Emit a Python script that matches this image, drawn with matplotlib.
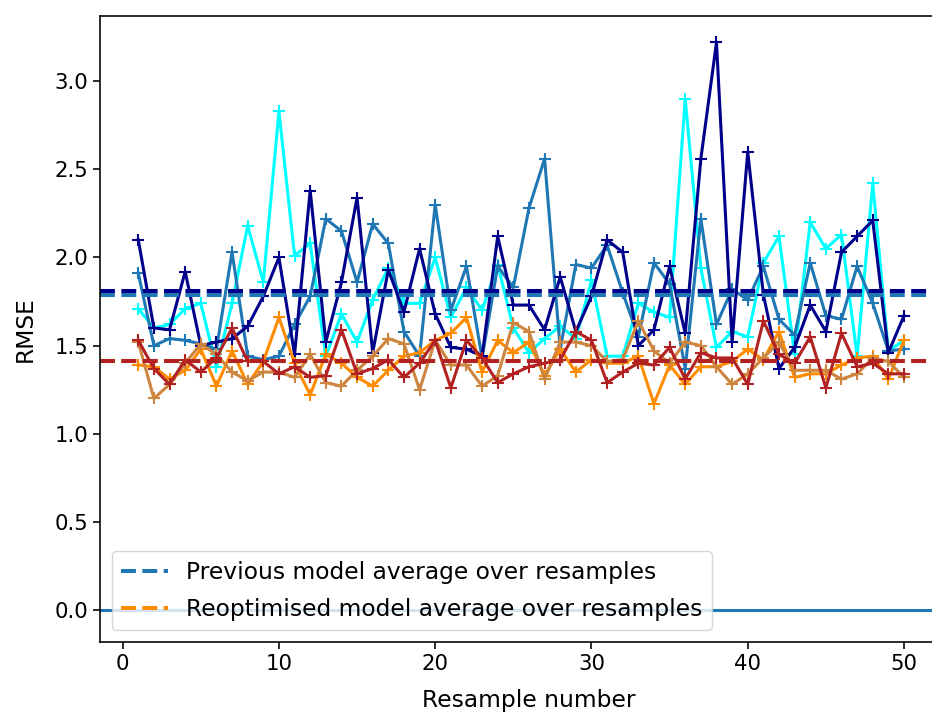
import numpy as np
import matplotlib
matplotlib.use("Agg")
import matplotlib.pyplot as plt

## resample index
resample = np.arange(1, 51)

## previous model RMSE per resample
prev_cyan = [1.71, 1.60, 1.62, 1.71, 1.74, 1.38, 1.74, 2.18, 1.86, 2.83,
             2.01, 2.08, 1.44, 1.68, 1.52, 1.76, 1.94, 1.74, 1.74, 2.00,
             1.66, 1.83, 1.70, 1.96, 1.60, 1.46, 1.54, 1.61, 1.54, 1.87,
             1.44, 1.44, 1.74, 1.69, 1.66, 2.90, 1.94, 1.49, 1.58, 1.55,
             1.97, 2.12, 1.45, 2.20, 2.05, 2.13, 1.44, 2.42, 1.47, 1.53]
prev_blue = [1.91, 1.50, 1.54, 1.53, 1.51, 1.48, 2.03, 1.44, 1.42, 1.44,
             1.62, 1.78, 2.22, 2.15, 1.86, 2.19, 2.08, 1.58, 1.44, 2.30,
             1.70, 1.95, 1.43, 1.95, 1.83, 2.28, 2.56, 1.48, 1.96, 1.94,
             2.07, 1.80, 1.55, 1.97, 1.85, 1.37, 2.22, 1.62, 1.82, 1.76,
             1.95, 1.65, 1.56, 1.97, 1.67, 1.65, 1.95, 1.74, 1.47, 1.48]
prev_navy = [2.10, 1.60, 1.59, 1.92, 1.50, 1.52, 1.54, 1.61, 1.78, 2.00,
             1.45, 2.38, 1.52, 1.86, 2.34, 1.46, 1.93, 1.69, 2.05, 1.68,
             1.49, 1.48, 1.44, 2.12, 1.73, 1.73, 1.59, 1.89, 1.58, 1.78,
             2.10, 2.03, 1.50, 1.59, 1.95, 1.57, 2.56, 3.22, 1.52, 2.60,
             1.79, 1.37, 1.49, 1.73, 1.58, 2.03, 2.12, 2.21, 1.46, 1.67]

## reoptimised model RMSE per resample
reopt_orange = [1.39, 1.38, 1.31, 1.36, 1.48, 1.27, 1.47, 1.28, 1.41, 1.66,
                1.40, 1.22, 1.45, 1.40, 1.32, 1.27, 1.36, 1.44, 1.46, 1.53,
                1.57, 1.66, 1.35, 1.53, 1.46, 1.52, 1.33, 1.48, 1.35, 1.42,
                1.40, 1.40, 1.44, 1.17, 1.39, 1.28, 1.38, 1.38, 1.41, 1.48,
                1.42, 1.58, 1.32, 1.34, 1.34, 1.39, 1.43, 1.44, 1.31, 1.53]
reopt_peru = [1.52, 1.20, 1.28, 1.40, 1.51, 1.45, 1.35, 1.30, 1.35, 1.35,
              1.32, 1.45, 1.29, 1.27, 1.36, 1.44, 1.54, 1.51, 1.25, 1.53,
              1.39, 1.39, 1.27, 1.33, 1.63, 1.58, 1.31, 1.52, 1.52, 1.50,
              1.41, 1.42, 1.64, 1.47, 1.40, 1.52, 1.50, 1.38, 1.28, 1.34,
              1.43, 1.52, 1.36, 1.36, 1.36, 1.31, 1.34, 1.43, 1.41, 1.32]
reopt_red = [1.53, 1.37, 1.28, 1.42, 1.35, 1.43, 1.60, 1.41, 1.41, 1.34,
             1.38, 1.32, 1.33, 1.59, 1.34, 1.37, 1.42, 1.32, 1.40, 1.53,
             1.26, 1.53, 1.43, 1.29, 1.34, 1.38, 1.40, 1.42, 1.58, 1.53,
             1.29, 1.35, 1.40, 1.39, 1.49, 1.31, 1.46, 1.43, 1.43, 1.28,
             1.64, 1.45, 1.40, 1.55, 1.26, 1.57, 1.38, 1.40, 1.34, 1.34]

## averages over resamples (dashed lines)
avg_prev_blue = 1.79
avg_prev_navy = 1.81
avg_reopt_orange = 1.41
avg_reopt_red = 1.415

## style
plt.rcParams["font.size"] = 15.3
plt.rcParams["lines.linewidth"] = 2.2
plt.rcParams["lines.markersize"] = 8.7
plt.rcParams["lines.markeredgewidth"] = 1.5
plt.rcParams["axes.linewidth"] = 1.16
plt.rcParams["xtick.major.width"] = 1.16
plt.rcParams["ytick.major.width"] = 1.16
plt.rcParams["xtick.major.size"] = 5
plt.rcParams["ytick.major.size"] = 5

fig = plt.figure(figsize=(9.32, 7.13), dpi=100)
ax = fig.add_axes([0.1073, 0.1, 0.9205, 0.8775])

ax.axhline(0, color="#1f77b4", lw=2.2)

ax.plot(resample, prev_cyan, marker="+", color="cyan")
ax.plot(resample, prev_blue, marker="+", color="#1f77b4")
ax.plot(resample, prev_navy, marker="+", color="darkblue")
ax.plot(resample, reopt_orange, marker="+", color="darkorange")
ax.plot(resample, reopt_peru, marker="+", color="peru")
ax.plot(resample, reopt_red, marker="+", color="firebrick")

ax.axhline(avg_prev_blue, color="#1f77b4", ls="--", lw=2.9,
           label="Previous model average over resamples")
ax.axhline(avg_prev_navy, color="darkblue", ls="--", lw=2.9)
ax.axhline(avg_reopt_orange, color="darkorange", ls="--", lw=2.9,
           label="Reoptimised model average over resamples")
ax.axhline(avg_reopt_red, color="firebrick", ls="--", lw=2.9)

ax.set_xlim(-1.45, 53.45)
ax.set_ylim(-0.18, 3.37)
ax.set_xticks([0, 10, 20, 30, 40, 50])
ax.set_yticks([0.0, 0.5, 1.0, 1.5, 2.0, 2.5, 3.0])
ax.set_xlabel("Resample number", fontsize=16.8, labelpad=11)
ax.set_ylabel("RMSE", fontsize=16.8, labelpad=13)
ax.legend(loc="lower left", fontsize=16.8, labelspacing=0.6)

fig.savefig("out.png", dpi=100)
